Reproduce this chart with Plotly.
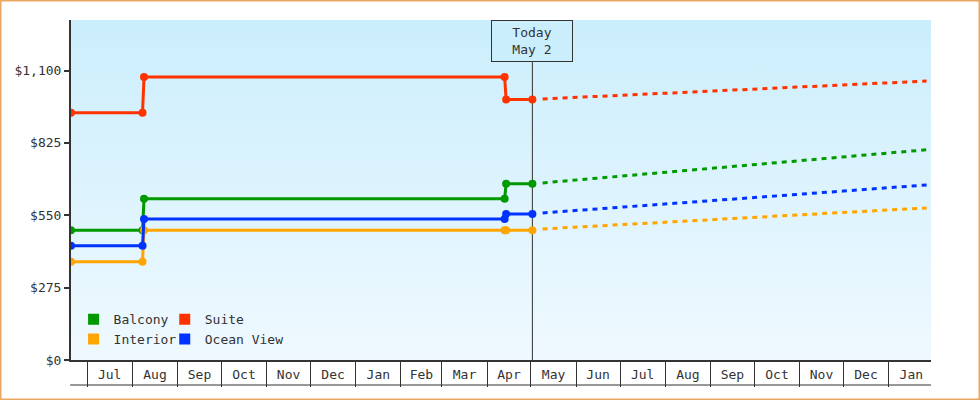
import plotly.graph_objects as go

# Observed prices (steps) up to today
hist_dates = ["2024-06-20", "2024-08-08", "2024-08-09", "2025-04-13", "2025-04-14", "2025-05-02"]
balcony_hist = [493, 493, 613, 613, 670, 670]
suite_hist = [940, 940, 1075, 1075, 990, 990]
interior_hist = [373, 373, 493, 493, 493, 493]
ocean_hist = [434, 434, 536, 536, 555, 555]

# Forecast after today
fc_dates = ["2025-05-09", "2025-06-01", "2025-07-01", "2025-08-01", "2025-09-01",
            "2025-10-01", "2025-11-01", "2025-12-01", "2026-01-01", "2026-01-27"]
balcony_fc = [673, 684, 698, 713, 728, 742, 757, 771, 786, 799]
suite_fc = [992, 998, 1005, 1014, 1022, 1030, 1038, 1045, 1053, 1060]
interior_fc = [498, 505, 514, 524, 533, 542, 552, 561, 570, 578]
ocean_fc = [559, 568, 580, 593, 605, 617, 630, 642, 655, 665]

series_names = ["Balcony", "Suite", "Interior", "Ocean View"]
series_colors = ["#009900", "#ff3300", "#ffa500", "#0033ff"]
series_hist = [balcony_hist, suite_hist, interior_hist, ocean_hist]
series_fc = [balcony_fc, suite_fc, interior_fc, ocean_fc]
series_legend = ["legend", "legend2", "legend", "legend2"]

TODAY = "2025-05-02"
X_START, X_END = "2024-06-20", "2026-01-30"
Y_MAX = 1292

FONT = "DejaVu Sans Mono"
INK = "#333333"

fig = go.Figure()

# gradient plot background
fig.add_trace(go.Scatter(
    x=[X_START, X_END, X_END, X_START, X_START],
    y=[0, 0, Y_MAX, Y_MAX, 0],
    mode="lines", fill="toself", line=dict(width=0),
    fillgradient=dict(type="vertical", colorscale=[[0, "#eff9ff"], [1, "#cbeefc"]],
                      start=0, stop=Y_MAX),
    hoverinfo="skip", showlegend=False,
))

# today line
fig.add_trace(go.Scatter(
    x=[TODAY, TODAY], y=[0, Y_MAX], mode="lines",
    line=dict(color=INK, width=1), hoverinfo="skip", showlegend=False,
))

for name, color, hist, fc in zip(series_names, series_colors, series_hist, series_fc):
    fig.add_trace(go.Scatter(
        x=fc_dates, y=fc, mode="lines", name=name,
        line=dict(color=color, width=3, dash="5px,5px"),
        showlegend=False,
    ))
    fig.add_trace(go.Scatter(
        x=hist_dates, y=hist, mode="lines+markers", name=name,
        line=dict(color=color, width=3),
        marker=dict(color=color, size=8),
        showlegend=False,
    ))

# legend swatches
for name, color, leg in zip(series_names, series_colors, series_legend):
    fig.add_trace(go.Scatter(
        x=[None], y=[None], mode="markers", name=name,
        marker=dict(color=color, size=11, symbol="square"),
        legend=leg,
    ))

legend_style = dict(
    orientation="v", xanchor="left", yanchor="bottom", y=0.017,
    bgcolor="rgba(0,0,0,0)", borderwidth=0, itemwidth=30,
    font=dict(family=FONT, size=13, color=INK), tracegroupgap=0,
)

fig.add_annotation(
    x=TODAY, xref="x", y=1, yref="paper", yanchor="top",
    text="Today<br>May 2", showarrow=False,
    font=dict(family=FONT, size=13, color=INK),
    bgcolor="#cbeefc", bordercolor=INK, borderwidth=1,
    width=78, height=38,
)

fig.update_layout(
    width=980, height=400,
    margin=dict(l=71, r=49, t=20, b=40),
    paper_bgcolor="white", plot_bgcolor="white",
    font=dict(family=FONT, size=13, color=INK),
    legend=dict(x=0.003, **legend_style),
    legend2=dict(x=0.109, **legend_style),
    hovermode="closest",
    shapes=[
        # bottom rule of the month boxes
        dict(type="line", xref="paper", yref="paper", x0=-0.001, x1=1, y0=-25 / 340, y1=-25 / 340,
             line=dict(color=INK, width=1)),
        # outer frame
        dict(type="rect", xref="paper", yref="paper",
             x0=(0.75 - 71) / 860, x1=(979.25 - 71) / 860,
             y0=(360 - 399.25) / 340, y1=(360 - 0.75) / 340,
             line=dict(color="#e9a862", width=1.5)),
    ],
)

fig.update_xaxes(
    type="date", range=[X_START, X_END],
    dtick="M1", tickformat="%b", ticklabelmode="period",
    ticks="outside", ticklen=25, tickwidth=1, tickcolor=INK,
    ticklabelstandoff=-24,
    showline=True, linecolor=INK, linewidth=2,
    showgrid=False, zeroline=False,
    tickfont=dict(family=FONT, size=13, color=INK),
)

fig.update_yaxes(
    range=[0, Y_MAX], tick0=0, dtick=275,
    tickprefix="$", tickformat=",",
    ticks="outside", ticklen=5, tickwidth=2, tickcolor=INK,
    showline=True, linecolor=INK, linewidth=2,
    showgrid=False, zeroline=False,
    tickfont=dict(family=FONT, size=13, color=INK),
)

fig.write_html("out.html", config={"displayModeBar": False},
               post_script="document.body.style.margin='0';")
